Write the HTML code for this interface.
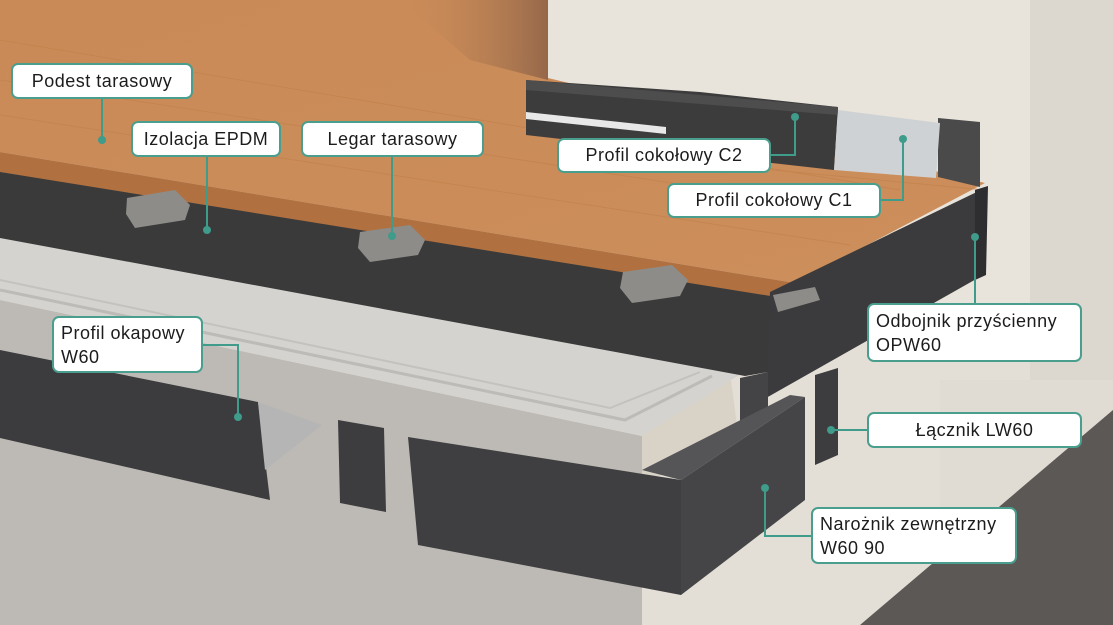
<!DOCTYPE html>
<html><head><meta charset="utf-8"><style>
html,body{margin:0;padding:0}
body{width:1113px;height:625px;position:relative;overflow:hidden;background:#e3ded5;font-family:"Liberation Sans",sans-serif}
svg{position:absolute;left:0;top:0}
.l{position:absolute;box-sizing:border-box;background:#fff;border:2px solid #4a9e8e;border-radius:7px;color:#1c1c1c;font-size:18px;letter-spacing:0.5px;display:flex;align-items:center;justify-content:center;white-space:nowrap}
.l2{justify-content:flex-start;padding-left:7px;line-height:24px;align-items:center}
</style></head><body>
<svg width="1113" height="625" viewBox="0 0 1113 625">
<defs>
<linearGradient id="wood" x1="0" y1="0" x2="1" y2="1"><stop offset="0" stop-color="#c98a57"/><stop offset="1" stop-color="#cc8e5b"/></linearGradient>
<linearGradient id="shade" x1="0" y1="0" x2="1" y2="0"><stop offset="0" stop-color="#c98a57" stop-opacity="0"/><stop offset="1" stop-color="#95684a"/></linearGradient>
</defs>
<rect x="0" y="0" width="1113" height="625" fill="#e4dfd6"/>
<rect x="548" y="0" width="565" height="320" fill="#e8e4dc"/>
<rect x="1030" y="0" width="83" height="625" fill="#dcd7cf"/>
<rect x="940" y="380" width="173" height="245" fill="#e0dbd3"/>
<polygon points="860,625 1113,410 1113,625" fill="#5b5855"/>
<polygon points="0,300 642,436 642,625 0,625" fill="#bdbab5"/>
<polygon points="642,436 731,380 740,448 660,476 642,476" fill="#d8d2c7"/>
<polygon points="0,236 745,372 731,380 642,436 0,300" fill="#d5d3cf"/>
<polyline points="0,290 625,420 712,376" fill="none" stroke="#bdbbb7" stroke-width="3"/>
<polyline points="0,280 610,408 700,372" fill="none" stroke="#c4c2be" stroke-width="2"/>
<polygon points="0,160 800,290 768,372 745,376 0,238" fill="#3a3a3b"/>
<polygon points="0,0 548,0 548,78 985,183 795,283 0,152" fill="url(#wood)"/>
<polygon points="400,0 548,0 548,80 470,60" fill="url(#shade)"/>
<g stroke="#c2824d" stroke-width="1" opacity="0.7">
<line x1="0" y1="40" x2="900" y2="190"/><line x1="0" y1="80" x2="880" y2="215"/><line x1="0" y1="115" x2="850" y2="245"/><line x1="560" y1="150" x2="985" y2="190"/>
</g>
<polygon points="0,152 795,283 795,300 0,172" fill="#b0703f"/>
<polygon points="770,292 985,188 978,278 766,398" fill="#3b3b3d"/>
<polygon points="975,190 988,186 986,275 975,280" fill="#2e2e30"/>
<polygon points="740,378 768,372 768,420 740,435" fill="#444446"/>
<g fill="#8e8c88">
<polygon points="127,198 175,190 190,205 185,220 135,228 126,214"/>
<polygon points="360,232 410,225 425,240 418,255 370,262 358,248"/>
<polygon points="623,272 672,265 688,280 680,296 632,303 620,288"/>
<polygon points="773,295 815,287 820,300 778,312"/>
</g>
<polygon points="526,80 700,92 838,107 834,170 526,135" fill="#3d3c3c"/>
<polygon points="526,80 838,107 838,115 526,90" fill="#4e4d4d"/>
<polygon points="526,112 666,127 666,134 526,119" fill="#e8e8e8"/>
<polygon points="938,118 980,122 980,187 938,177" fill="#4a4a4a"/>
<polygon points="838,110 940,123 936,178 834,170" fill="#cfd2d4"/>
<polygon points="0,350 258,402 270,500 0,438" fill="#3c3c3e"/>
<polygon points="258,402 322,425 265,470" fill="#b5b5b5"/>
<polygon points="338,420 384,428 386,512 340,503" fill="#3d3d3f"/>
<polygon points="408,437 681,480 681,595 418,545" fill="#3f3f41"/>
<polygon points="681,480 805,397 805,500 681,595" fill="#454547"/>
<polygon points="642,470 681,480 805,397 790,395" fill="#555557"/>
<polygon points="815,375 838,368 838,455 815,465" fill="#3d3d3f"/>
<g stroke="#3f9b8a" stroke-width="2" fill="none">
<line x1="102" y1="99" x2="102" y2="140"/>
<line x1="207" y1="157" x2="207" y2="230"/>
<line x1="392" y1="157" x2="392" y2="236"/>
<polyline points="770,155 795,155 795,117"/>
<polyline points="881,200 903,200 903,139"/>
<line x1="975" y1="303" x2="975" y2="237"/>
<polyline points="202,345 238,345 238,417"/>
<line x1="867" y1="430" x2="831" y2="430"/>
<polyline points="811,536 765,536 765,488"/>
</g>
<g fill="#3f9b8a">
<circle cx="102" cy="140" r="4"/><circle cx="207" cy="230" r="4"/><circle cx="392" cy="236" r="4"/>
<circle cx="795" cy="117" r="4"/><circle cx="903" cy="139" r="4"/><circle cx="975" cy="237" r="4"/>
<circle cx="238" cy="417" r="4"/><circle cx="831" cy="430" r="4"/><circle cx="765" cy="488" r="4"/>
</g>
</svg>
<div class="l" style="left:11px;top:63px;width:182px;height:36px">Podest tarasowy</div>
<div class="l" style="left:131px;top:121px;width:150px;height:36px">Izolacja EPDM</div>
<div class="l" style="left:301px;top:121px;width:183px;height:36px">Legar tarasowy</div>
<div class="l" style="left:557px;top:138px;width:214px;height:35px">Profil cokołowy C2</div>
<div class="l" style="left:667px;top:183px;width:214px;height:35px">Profil cokołowy C1</div>
<div class="l l2" style="left:867px;top:303px;width:215px;height:59px">Odbojnik przyścienny<br>OPW60</div>
<div class="l l2" style="left:52px;top:316px;width:151px;height:57px">Profil okapowy<br>W60</div>
<div class="l" style="left:867px;top:412px;width:215px;height:36px">Łącznik LW60</div>
<div class="l l2" style="left:811px;top:507px;width:206px;height:57px">Narożnik zewnętrzny<br>W60 90</div>
</body></html>
